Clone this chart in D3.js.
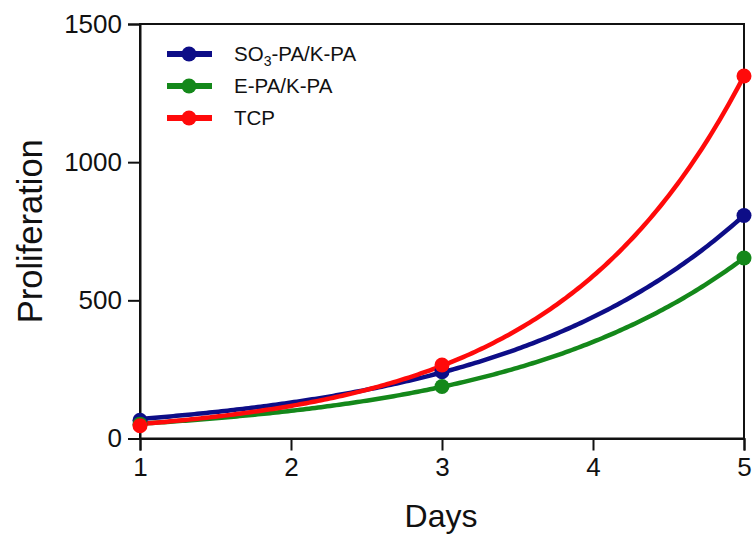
<!DOCTYPE html>
<html><head><meta charset="utf-8">
<script src="https://cdn.jsdelivr.net/npm/d3@7"></script>
<style>body{margin:0;background:#fff}svg{display:block}text{font-family:Arial,"Liberation Sans",sans-serif;fill:#111}</style>
</head><body><svg id="c" width="755" height="537"></svg>
<script>
const days = [1, 3, 5];
const so3Values = [66, 242, 807];
const epaValues = [52, 188, 653];
const tcpValues = [46, 266, 1312];
const seriesNames = ["SO3-PA/K-PA", "E-PA/K-PA", "TCP"];
const seriesColors = ["#0d0d87", "#14881a", "#ff0a0a"];
const xTicks = [1, 2, 3, 4, 5];
const yTicks = [0, 500, 1000, 1500];

const series = [
  {name: seriesNames[0], color: seriesColors[0], values: so3Values},
  {name: seriesNames[1], color: seriesColors[1], values: epaValues},
  {name: seriesNames[2], color: seriesColors[2], values: tcpValues}
];

// Nonlinear least-squares fit of Y = Y0*exp(k*X) (exponential growth fit)
function fitExp(xs, ys) {
  const n = xs.length;
  const mx = d3.mean(xs), ly = ys.map(Math.log), my = d3.mean(ly);
  let k = d3.sum(xs.map((x,i)=>(x-mx)*(ly[i]-my))) / d3.sum(xs.map(x=>(x-mx)**2));
  let a = Math.exp(my - k*mx);
  for (let it = 0; it < 100; it++) {
    let JtJ = [[0,0],[0,0]], Jtr = [0,0];
    for (let i = 0; i < n; i++) {
      const e = Math.exp(k*xs[i]);
      const f = a*e, r = ys[i]-f;
      const J = [e, a*xs[i]*e];
      JtJ[0][0]+=J[0]*J[0]; JtJ[0][1]+=J[0]*J[1]; JtJ[1][1]+=J[1]*J[1];
      Jtr[0]+=J[0]*r; Jtr[1]+=J[1]*r;
    }
    JtJ[1][0]=JtJ[0][1];
    const det = JtJ[0][0]*JtJ[1][1]-JtJ[0][1]*JtJ[1][0];
    const da = (JtJ[1][1]*Jtr[0]-JtJ[0][1]*Jtr[1])/det;
    const dk = (JtJ[0][0]*Jtr[1]-JtJ[1][0]*Jtr[0])/det;
    a += da; k += dk;
    if (Math.abs(da) < 1e-9 && Math.abs(dk) < 1e-12) break;
  }
  return x => a*Math.exp(k*x);
}

const svg = d3.select("#c");
const x = d3.scaleLinear().domain([1, 5]).range([140, 744]);
const y = d3.scaleLinear().domain([0, 1500]).range([438.5, 24]);

svg.append("rect").attr("x", x(1)).attr("y", y(1500)).attr("width", x(5)-x(1)).attr("height", y(0)-y(1500))
  .attr("fill", "none").attr("stroke", "#111").attr("stroke-width", 2);

const xAxis = svg.append("g").attr("transform", `translate(0,${y(0)})`)
  .call(d3.axisBottom(x).tickValues(xTicks).tickFormat(d3.format("d")).tickSize(12).tickPadding(7));
const yAxis = svg.append("g").attr("transform", `translate(${x(1)},0)`)
  .call(d3.axisLeft(y).tickValues(yTicks).tickFormat(d3.format("d")).tickSize(12).tickPadding(6));
[xAxis, yAxis].forEach(g => {
  g.selectAll("path").attr("stroke", "#111").attr("stroke-width", 2);
  g.selectAll("line").attr("stroke", "#111").attr("stroke-width", 2);
  g.selectAll("text").attr("font-size", 26).attr("fill", "#111");
});

const line = d3.line().x(d => x(d[0])).y(d => y(d[1])).curve(d3.curveLinear);
series.forEach(s => {
  const f = fitExp(days, s.values);
  const pts = d3.range(1, 5.0001, 0.02).map(t => [t, f(t)]);
  svg.append("path").datum(pts).attr("d", line).attr("fill", "none")
    .attr("stroke", s.color).attr("stroke-width", 4.5);
});
series.forEach(s => {
  svg.selectAll(null).data(days.map((d,i)=>[d, s.values[i]])).enter().append("circle")
    .attr("cx", d => x(d[0])).attr("cy", d => y(d[1])).attr("r", 7.5).attr("fill", s.color);
});

const leg = svg.append("g");
series.forEach((s, i) => {
  const ly = 54 + i*32;
  leg.append("line").attr("x1", 167).attr("x2", 212).attr("y1", ly).attr("y2", ly)
    .attr("stroke", s.color).attr("stroke-width", 6);
  leg.append("circle").attr("cx", 189).attr("cy", ly).attr("r", 7.5).attr("fill", s.color);
  const t = leg.append("text").attr("x", 234).attr("y", ly + 7).attr("font-size", 20.5);
  if (i === 0) {
    t.append("tspan").text("SO");
    t.append("tspan").text("3").attr("font-size", 14).attr("dy", 5);
    t.append("tspan").text("-PA/K-PA").attr("dy", -5);
  } else t.text(s.name);
});

svg.append("text").attr("x", 441).attr("y", 527).attr("text-anchor", "middle").attr("font-size", 32).text("Days");
svg.append("text").attr("transform", `translate(42,${y(750)}) rotate(-90)`).attr("text-anchor", "middle")
  .attr("font-size", 34.5).text("Proliferation");
</script></body></html>
